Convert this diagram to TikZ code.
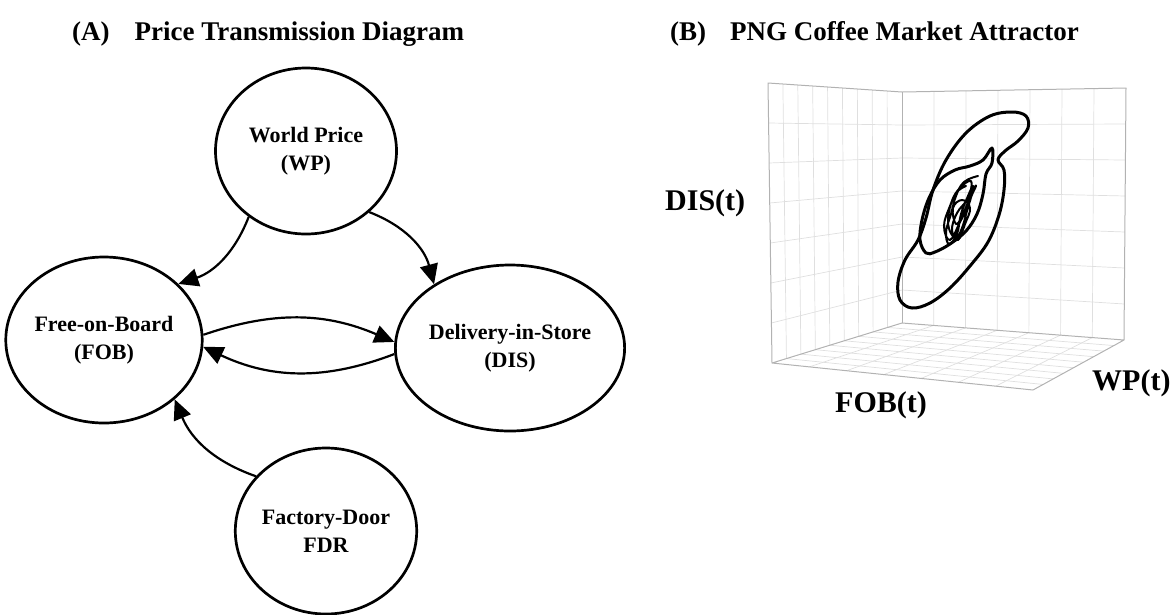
\documentclass[tikz,border=0pt]{standalone}
\usepackage{fontspec}
\setmainfont{Liberation Serif}
\usetikzlibrary{arrows.meta,shapes.geometric,calc}
\begin{document}
\begin{tikzpicture}[x=1pt,y=-1pt,
  stnode/.style={draw,line width=2.7pt,ellipse,minimum width=181pt,minimum height=166pt,inner sep=0pt,align=center,font=\bfseries\fontsize{22}{28}\selectfont},
  link/.style={line width=2.2pt,-{Triangle[length=20pt,width=18pt]}},
  ttl/.style={anchor=base west,inner sep=0pt,font=\bfseries\fontsize{27}{32}\selectfont},
  axl/.style={anchor=base west,inner sep=0pt,font=\bfseries\fontsize{30}{36}\selectfont},
  gridln/.style={gray!25,line width=0.7pt},
  boxframe/.style={gray!60,line width=1pt,line join=round},
  orbit/.style={line width=3pt,line join=round,line cap=round},
  tangle/.style={line width=2pt,line join=round,line cap=round}
]
\useasboundingbox (0,0) rectangle (1176,614);

% titles
\node[ttl] (ta) at (72,40) {(A)\hspace{25pt}Price Transmission Diagram};
\node[ttl] (tb) at (670,40) {(B)\hspace{24pt}PNG Coffee Market Attractor};

% panel A
\node[stnode] (wp) at (306,151) {World Price\\(WP)};
\node[stnode] (fob) at (104,340) {Free-on-Board\\(FOB)};
\node[stnode] (dis) at (510,348) {Delivery-in-Store\\(DIS)};
\node[stnode] (fdr) at (326,531) {Factory-Door\\FDR};

\draw[link] (wp.229) to[bend left=25] (fob.37);
\draw[link] (wp.316) to[bend left=27] (dis.140);
\draw[link] (fob.3) to[bend left=21] (dis.177);
\draw[link] (dis.183) to[bend left=23] (fob.-4);
\draw[link] (fdr.142) to[bend left=24] (fob.320);

% panel B: 3D box
\coordinate (LTL) at (768,83);
\coordinate (BT) at (902,92);
\coordinate (BB) at (902,323);
\coordinate (LBL) at (772,363);
\coordinate (RTR) at (1126,88);
\coordinate (RBR) at (1124,340);
\coordinate (FF) at (1033,390);

\foreach \i in {1,...,8} {
  \draw[gridln] ($(LTL)!\i/9!(BT)$) -- ($(LBL)!\i/9!(BB)$);
  \draw[gridln] ($(BB)!\i/9!(LBL)$) -- ($(RBR)!\i/9!(FF)$);
}
\foreach \j in {1,...,6} {
  \draw[gridln] ($(LTL)!\j/7!(LBL)$) -- ($(BT)!\j/7!(BB)$);
  \draw[gridln] ($(BT)!\j/7!(RTR)$) -- ($(BB)!\j/7!(RBR)$);
  \draw[gridln] ($(BT)!\j/7!(BB)$) -- ($(RTR)!\j/7!(RBR)$);
  \draw[gridln] ($(BB)!\j/7!(RBR)$) -- ($(LBL)!\j/7!(FF)$);
}
\draw[boxframe] (LBL) -- (LTL) -- (BT) -- (RTR) -- (RBR) -- (FF) -- (LBL) -- (BB) -- (RBR);
\draw[boxframe] (BT) -- (BB);

% attractor
\draw[orbit] plot[smooth cycle,tension=0.6] coordinates {
 (1012,112) (1026,116) (1028,128) (1018,141) (1005,151) (998,160) (1004,170)
 (1004,190) (999,215) (988,242) (970,266) (950,288) (930,303) (912,308)
 (900,300) (898,282) (905,260) (918,240) (926,218) (933,190) (946,160)
 (966,133) (990,116)};
\draw[orbit] plot[smooth cycle,tension=0.6] coordinates {
 (926,253) (920,240) (922,220) (929,198) (940,180) (955,170) (970,166)
 (983,160) (992,148) (992,163) (986,174) (983,194) (977,214) (966,231)
 (950,244) (935,252)};
\draw[tangle] plot[smooth,tension=0.7] coordinates {
 (978,176) (964,182) (956,196) (951,214) (946,232) (949,244) (957,234)
 (961,214) (968,196) (973,186) (969,204) (960,222) (950,240) (944,226)
 (950,206) (958,190) (971,181) (968,198) (957,213) (952,230) (958,240)
 (965,224) (970,208) (962,200) (953,208) (956,224) (963,214) (972,192)
 (976,186) (970,200) (962,228) (955,238) (948,222) (954,196) (966,186)};

% axis labels
\node[axl] (ld) at (665,210) {DIS(t)};
\node[axl] (lf) at (835,412) {FOB(t)};
\node[axl] (lw) at (1092,390) {WP(t)};
\end{tikzpicture}
\end{document}
